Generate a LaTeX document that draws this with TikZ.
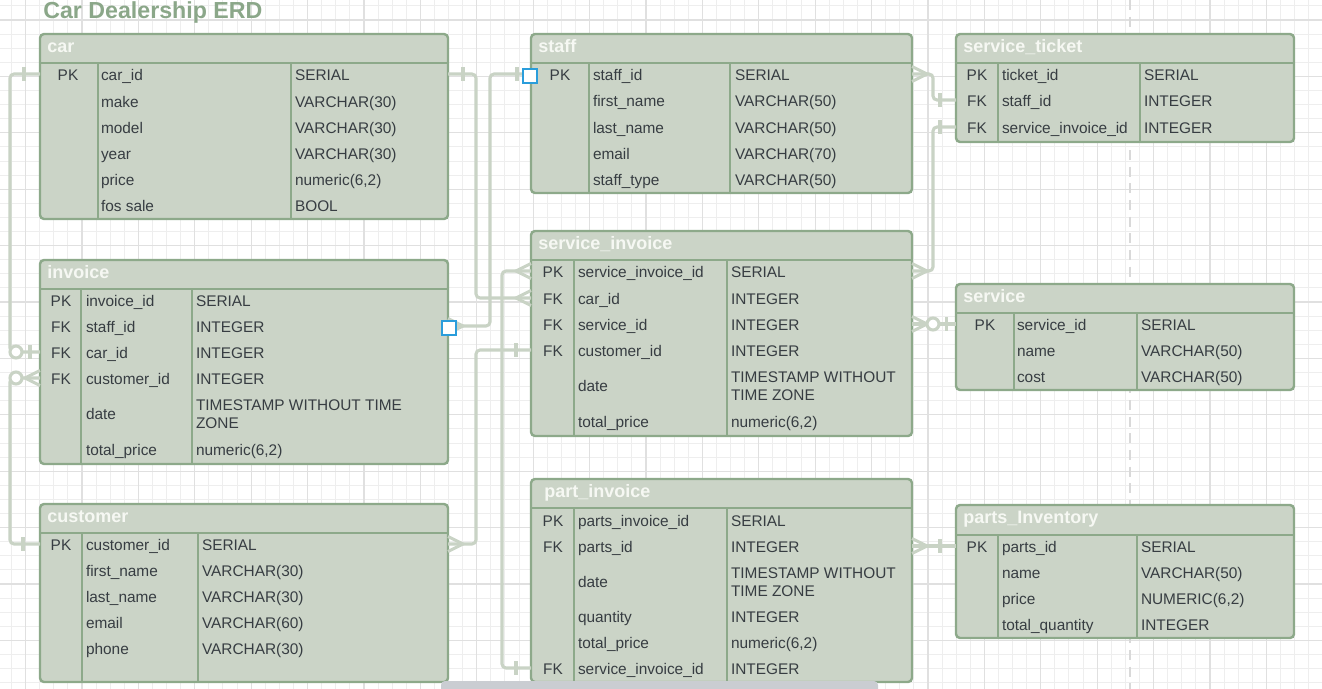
\documentclass[tikz,border=0pt]{standalone}
\usepackage{fontspec}
\setmainfont{Liberation Sans}
\definecolor{tfill}{HTML}{CBD4C7}
\definecolor{tborder}{HTML}{8DA98A}
\definecolor{ttext}{HTML}{373D42}
\definecolor{thead}{HTML}{F6F8F3}
\definecolor{connc}{HTML}{C9D3C5}
\definecolor{titlec}{HTML}{8BA789}
\definecolor{gminorc}{HTML}{EEEEEE}
\definecolor{gmajorc}{HTML}{E0E0E0}
\definecolor{dashc}{HTML}{D9D9D9}
\definecolor{selblue}{HTML}{2A9DDB}
\definecolor{scrollc}{HTML}{CACDD2}
\newcommand{\erdcellfont}{\fontsize{11.55}{13}\selectfont}
\newcommand{\erdhdrfont}{\fontsize{13.5}{15}\selectfont\bfseries}
\newcommand{\erdtitlefont}{\fontsize{17.4}{20}\selectfont\bfseries}
\tikzset{
  tbl/.style={draw=tborder, fill=tfill, line width=1.8pt, rounded corners=3pt, anchor=north west, inner sep=0pt, outer sep=0pt},
  sepline/.style={draw=tborder, line width=1.6pt},
  cell/.style={anchor=base west, inner sep=0pt, outer sep=0pt, text=ttext, font=\erdcellfont, text height=11pt, text depth=2pt},
  keyc/.style={cell, anchor=base},
  hdr/.style={anchor=base west, inner sep=0pt, text=thead, font=\erdhdrfont},
  conn/.style={draw=connc, line width=2.3pt, rounded corners=3pt},
  mk/.style={draw=connc, line width=2.3pt},
  gminor/.style={draw=gminorc, line width=0.7pt},
  gmajor/.style={draw=gmajorc, line width=0.9pt},
  dashline/.style={draw=dashc, line width=2.2pt, dash pattern=on 7.5pt off 5pt},
  handle/.style={draw=selblue, fill=white, line width=1.4pt, minimum size=10.5pt, inner sep=0pt}
}
% table frame: name, x1, y1, x2, y2, header line y, col1 x, col2 x
\newcommand{\erdtab}[8]{%
  \node[tbl, minimum width={(#4-#2)*0.75pt}, minimum height={(#5-#3)*0.75pt}] (#1) at (#2,#3) {};
  \draw[sepline] (#2,#6) -- (#4,#6);
  \draw[sepline] (#7,#6) -- (#7,#5);
  \draw[sepline] (#8,#6) -- (#8,#5);
}
% row: prefix, index, y, key, name, type
\newcommand{\erdrow}[6]{%
  \node[keyc] (#1-k#2) at (\erdKX,#3+6) {#4};
  \node[cell] (#1-n#2) at (\erdNX,#3+6) {#5};
  \node[cell] (#1-t#2) at (\erdTX,#3+6) {#6};
}
% two-line type row: prefix, index, y, name, line1, line2
\newcommand{\erdrowtwo}[6]{%
  \node[cell] (#1-n#2) at (\erdNX,#3+6) {#4};
  \node[cell] (#1-t#2) at (\erdTX,#3-3) {#5};
  \node[cell] (#1-u#2) at (\erdTX,#3+15) {#6};
}
\newcommand{\onebar}[2]{\draw[mk, shift={(#1)}] (#2,-7) -- (#2,7);}
\newcommand{\crowfoot}[2]{\draw[mk, shift={(#1)}] (0,-7.5) -- ({#2*15},0) -- (0,7.5);}
\newcommand{\ringmark}[2]{\draw[mk, fill=white, shift={(#1)}] (#2,0) circle[radius=6];}
\begin{document}
\begin{tikzpicture}[x=0.75pt,y=-0.75pt]
\useasboundingbox (0,0) rectangle (1322,689);
\clip (0,0) rectangle (1322,689);
\fill[white] (0,0) rectangle (1322,689);
% grid
\foreach \i in {0,...,93} {\draw[gminor] ({11.4+14.1*\i},0) -- ({11.4+14.1*\i},689);}
\foreach \j in {0,...,48} {\draw[gminor] (0,{5.9+14.1*\j}) -- (1322,{5.9+14.1*\j});}
\foreach \i in {0,...,23} {\draw[gmajor] ({25.5+56.4*\i},0) -- ({25.5+56.4*\i},689);}
\foreach \j in {0,...,12} {\draw[gmajor] (0,{20+56.4*\j}) -- (1322,{20+56.4*\j});}
\draw[dashline] (1130,0) -- (1130,689);
% title
\node[anchor=base west, inner sep=0pt, font=\erdtitlefont, text=titlec] (title) at (43,18) {Car Dealership ERD};

% car
\erdtab{car}{40}{34}{448}{219}{63}{98}{291}
\node[hdr] (car-h) at (47,52.5) {car};
\def\erdKX{68}\def\erdNX{101}\def\erdTX{295}
\erdrow{car}{1}{74}{PK}{car\_id}{SERIAL}
\erdrow{car}{2}{101}{}{make}{VARCHAR(30)}
\erdrow{car}{3}{127}{}{model}{VARCHAR(30)}
\erdrow{car}{4}{153}{}{year}{VARCHAR(30)}
\erdrow{car}{5}{179}{}{price}{numeric(6,2)}
\erdrow{car}{6}{205}{}{fos sale}{BOOL}

% invoice
\erdtab{inv}{40}{260}{448}{464}{289}{81}{192}
\node[hdr] (inv-h) at (47,278.5) {invoice};
\def\erdKX{61}\def\erdNX{86}\def\erdTX{196}
\erdrow{inv}{1}{300}{PK}{invoice\_id}{SERIAL}
\erdrow{inv}{2}{326}{FK}{staff\_id}{INTEGER}
\erdrow{inv}{3}{352}{FK}{car\_id}{INTEGER}
\erdrow{inv}{4}{378}{FK}{customer\_id}{INTEGER}
\erdrowtwo{inv}{5}{413}{date}{TIMESTAMP WITHOUT TIME}{ZONE}
\erdrow{inv}{6}{449}{}{total\_price}{numeric(6,2)}

% customer
\erdtab{cus}{40}{504}{448}{682}{533}{82}{198}
\node[hdr] (cus-h) at (47,522.5) {customer};
\def\erdKX{61}\def\erdNX{86}\def\erdTX{202}
\erdrow{cus}{1}{544}{PK}{customer\_id}{SERIAL}
\erdrow{cus}{2}{570}{}{first\_name}{VARCHAR(30)}
\erdrow{cus}{3}{596}{}{last\_name}{VARCHAR(30)}
\erdrow{cus}{4}{622}{}{email}{VARCHAR(60)}
\erdrow{cus}{5}{648}{}{phone}{VARCHAR(30)}

% staff
\erdtab{staff}{531}{34}{912}{193}{63}{589}{730}
\node[hdr] (staff-h) at (538,52.5) {staff};
\def\erdKX{560}\def\erdNX{593}\def\erdTX{735}
\erdrow{staff}{1}{74}{PK}{staff\_id}{SERIAL}
\erdrow{staff}{2}{100}{}{first\_name}{VARCHAR(50)}
\erdrow{staff}{3}{127}{}{last\_name}{VARCHAR(50)}
\erdrow{staff}{4}{153}{}{email}{VARCHAR(70)}
\erdrow{staff}{5}{179}{}{staff\_type}{VARCHAR(50)}

% service_invoice
\erdtab{sinv}{531}{231}{912}{436}{260}{574}{727}
\node[hdr] (sinv-h) at (538,249.5) {service\_invoice};
\def\erdKX{553}\def\erdNX{578}\def\erdTX{731}
\erdrow{sinv}{1}{271}{PK}{service\_invoice\_id}{SERIAL}
\erdrow{sinv}{2}{298}{FK}{car\_id}{INTEGER}
\erdrow{sinv}{3}{324}{FK}{service\_id}{INTEGER}
\erdrow{sinv}{4}{350}{FK}{customer\_id}{INTEGER}
\erdrowtwo{sinv}{5}{385}{date}{TIMESTAMP WITHOUT}{TIME ZONE}
\erdrow{sinv}{6}{421}{}{total\_price}{numeric(6,2)}

% part_invoice
\erdtab{pinv}{531}{479}{912}{682}{508}{574}{727}
\node[hdr] (pinv-h) at (544,497.5) {part\_invoice};
\def\erdKX{553}\def\erdNX{578}\def\erdTX{731}
\erdrow{pinv}{1}{520}{PK}{parts\_invoice\_id}{SERIAL}
\erdrow{pinv}{2}{546}{FK}{parts\_id}{INTEGER}
\erdrowtwo{pinv}{3}{581}{date}{TIMESTAMP WITHOUT}{TIME ZONE}
\erdrow{pinv}{4}{616}{}{quantity}{INTEGER}
\erdrow{pinv}{5}{642}{}{total\_price}{numeric(6,2)}
\erdrow{pinv}{6}{668}{FK}{service\_invoice\_id}{INTEGER}

% service_ticket
\erdtab{stk}{956}{34}{1294}{142}{63}{998}{1140}
\node[hdr] (stk-h) at (963,52.5) {service\_ticket};
\def\erdKX{977}\def\erdNX{1002}\def\erdTX{1144}
\erdrow{stk}{1}{74}{PK}{ticket\_id}{SERIAL}
\erdrow{stk}{2}{100}{FK}{staff\_id}{INTEGER}
\erdrow{stk}{3}{127}{FK}{service\_invoice\_id}{INTEGER}

% service
\erdtab{svc}{956}{284}{1294}{390}{313}{1014}{1137}
\node[hdr] (svc-h) at (963,302.5) {service};
\def\erdKX{985}\def\erdNX{1017}\def\erdTX{1141}
\erdrow{svc}{1}{324}{PK}{service\_id}{SERIAL}
\erdrow{svc}{2}{350}{}{name}{VARCHAR(50)}
\erdrow{svc}{3}{376}{}{cost}{VARCHAR(50)}

% parts_Inventory
\erdtab{parts}{956}{505}{1294}{638}{535}{998}{1137}
\node[hdr] (parts-h) at (963,523.5) {parts\_Inventory};
\def\erdKX{977}\def\erdNX{1002}\def\erdTX{1141}
\erdrow{parts}{1}{546}{PK}{parts\_id}{SERIAL}
\erdrow{parts}{2}{572}{}{name}{VARCHAR(50)}
\erdrow{parts}{3}{598}{}{price}{NUMERIC(6,2)}
\erdrow{parts}{4}{624}{}{total\_quantity}{INTEGER}

% connectors
\draw[conn] (car.west |- car-n1) -- ++(-30,0) |- (inv.west |- inv-n3);
\draw[conn] (cus.west |- cus-n1) -- ++(-30,0) |- (inv.west |- inv-n4);
\draw[conn] (car.east |- car-n1) -- ++(28,0) |- (sinv.west |- sinv-n2);
\draw[conn] (staff.west |- staff-n1) -- ++(-41,0) |- (inv.east |- inv-n2);
\draw[conn] (sinv.west |- sinv-n1) -- ++(-29,0) |- (pinv.west |- pinv-n6);
\draw[conn] (sinv.west |- sinv-n4) -- ++(-55,0) |- (cus.east |- cus-n1);
\draw[conn] (staff.east |- staff-n1) -- ++(21,0) |- (stk.west |- stk-n2);
\draw[conn] (sinv.east |- sinv-n1) -- ++(21,0) |- (stk.west |- stk-n3);
\draw[conn] (sinv.east |- sinv-n3) -- (svc.west |- svc-n1);
\draw[conn] (pinv.east |- pinv-n2) -- (parts.west |- parts-n1);

% markers
\onebar{car.west |- car-n1}{-16}
\onebar{inv.west |- inv-n3}{-10}
\ringmark{inv.west |- inv-n3}{-24}
\onebar{cus.west |- cus-n1}{-17}
\crowfoot{inv.west |- inv-n4}{-1}
\ringmark{inv.west |- inv-n4}{-24}
\onebar{car.east |- car-n1}{15}
\crowfoot{sinv.west |- sinv-n2}{-1}
\onebar{staff.west |- staff-n1}{-14}
\crowfoot{inv.east |- inv-n2}{1}
\crowfoot{sinv.west |- sinv-n1}{-1}
\onebar{pinv.west |- pinv-n6}{-15}
\onebar{sinv.west |- sinv-n4}{-15}
\crowfoot{cus.east |- cus-n1}{1}
\crowfoot{staff.east |- staff-n1}{1}
\onebar{stk.west |- stk-n2}{-16}
\crowfoot{sinv.east |- sinv-n1}{1}
\onebar{stk.west |- stk-n3}{-16}
\crowfoot{sinv.east |- sinv-n3}{1}
\ringmark{sinv.east |- sinv-n3}{21}
\onebar{svc.west |- svc-n1}{-9.5}
\crowfoot{pinv.east |- pinv-n2}{1}
\onebar{parts.west |- parts-n1}{-16}

% selection handles
\node[handle] (sel1) at (530,76) {};
\node[handle] (sel2) at (449,328) {};
% scrollbar
\fill[scrollc, rounded corners=3pt] (441,681) rectangle (878,697);
\end{tikzpicture}
\end{document}
